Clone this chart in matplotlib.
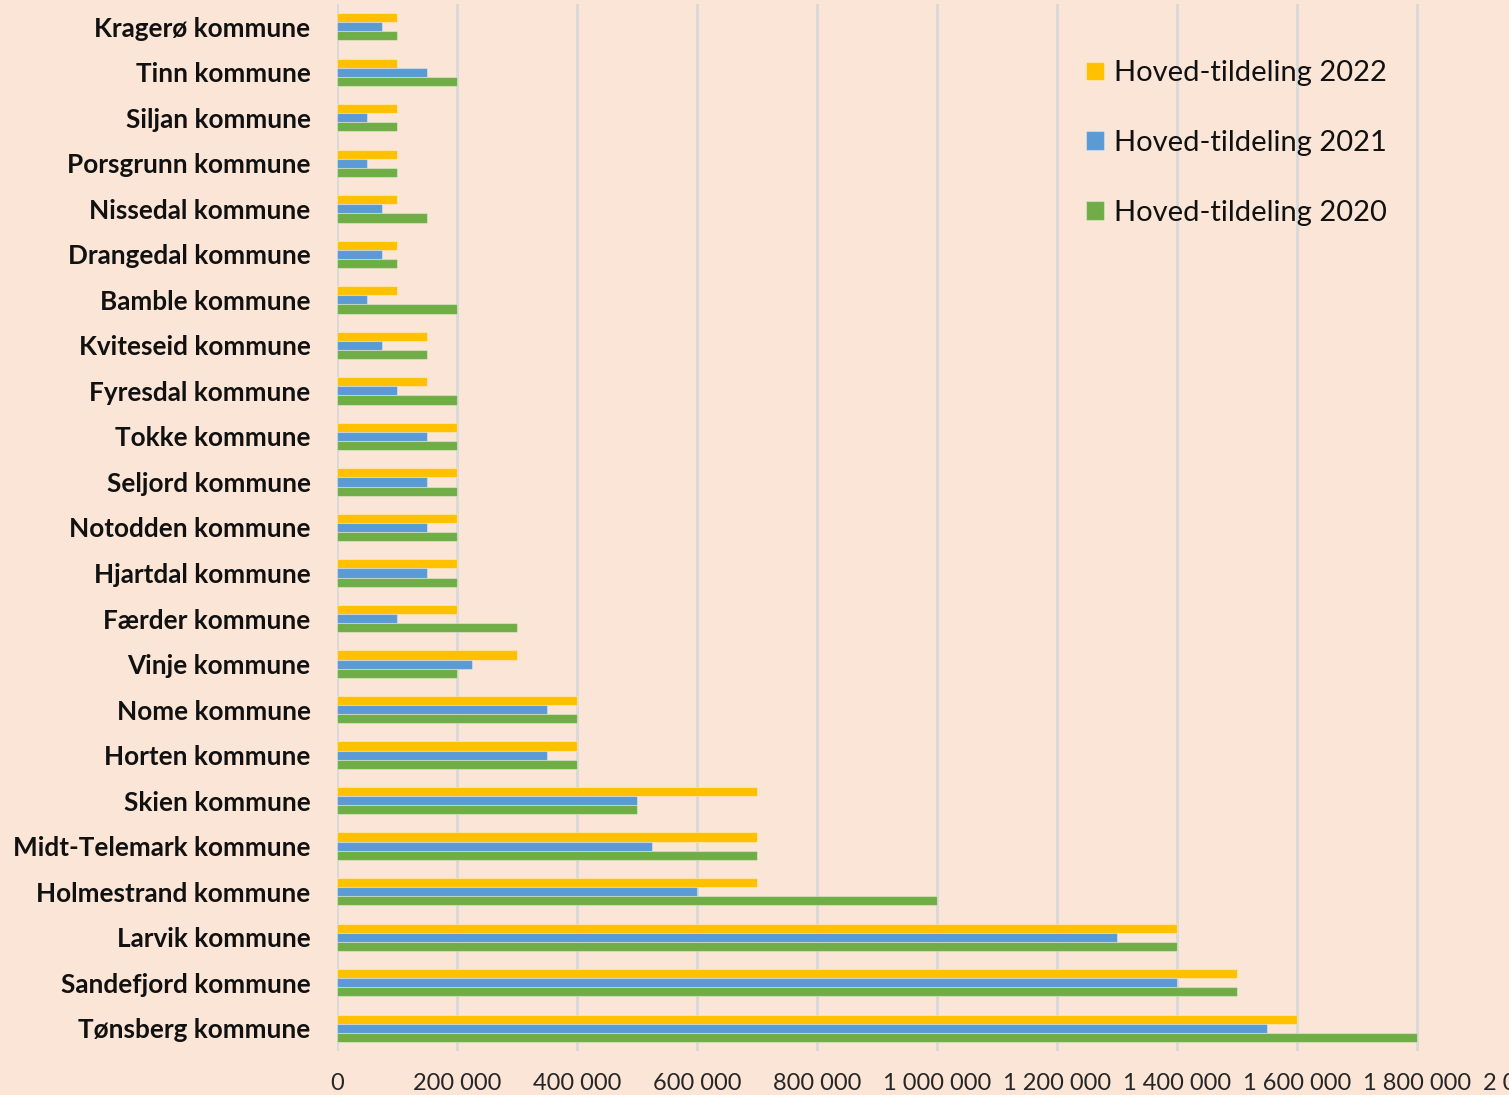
import matplotlib
matplotlib.use("Agg")
import matplotlib.pyplot as plt
import numpy as np
from matplotlib.ticker import FuncFormatter

categories = ["Kragerø kommune", "Tinn kommune", "Siljan kommune", "Porsgrunn kommune",
              "Nissedal kommune", "Drangedal kommune", "Bamble kommune", "Kviteseid kommune",
              "Fyresdal kommune", "Tokke kommune", "Seljord kommune", "Notodden kommune",
              "Hjartdal kommune", "Færder kommune", "Vinje kommune", "Nome kommune",
              "Horten kommune", "Skien kommune", "Midt-Telemark kommune", "Holmestrand kommune",
              "Larvik kommune", "Sandefjord kommune", "Tønsberg kommune"]

tildeling_2022 = [100000, 100000, 100000, 100000, 100000, 100000, 100000, 150000,
                  150000, 200000, 200000, 200000, 200000, 200000, 300000, 400000,
                  400000, 700000, 700000, 700000, 1400000, 1500000, 1600000]
tildeling_2021 = [75000, 150000, 50000, 50000, 75000, 75000, 50000, 75000,
                  100000, 150000, 150000, 150000, 150000, 100000, 225000, 350000,
                  350000, 500000, 525000, 600000, 1300000, 1400000, 1550000]
tildeling_2020 = [100000, 200000, 100000, 100000, 150000, 100000, 200000, 150000,
                  200000, 200000, 200000, 200000, 200000, 300000, 200000, 400000,
                  400000, 500000, 700000, 1000000, 1400000, 1500000, 1800000]

series_labels = ["Hoved-tildeling 2022", "Hoved-tildeling 2021", "Hoved-tildeling 2020"]
colors = ["#FFC000", "#5B9BD5", "#70AD47"]
bg = "#FBE5D6"

W, H = 1509, 1095
fig = plt.figure(figsize=(W / 100, H / 100), dpi=100, facecolor=bg)
left = 337 / W
right = 1537 / W
top = 1 - 4 / H
bottom = 1 - 1051 / H
ax = fig.add_axes([left, bottom, right - left, top - bottom])
ax.set_facecolor(bg)

y = np.arange(len(categories))
h = 0.2
for vals, off, c, lab in zip([tildeling_2022, tildeling_2021, tildeling_2020],
                             [-h, 0, h], colors, series_labels):
    ax.barh(y + off, vals, height=h, color=c, label=lab,
            edgecolor=(1, 1, 1, 0.35), linewidth=0.8, zorder=3)

ax.set_xlim(0, 2000000)
ax.set_ylim(len(categories) - 0.5, -0.5)
ax.set_xticks(np.arange(0, 2000001, 200000))
ax.xaxis.set_major_formatter(FuncFormatter(lambda v, p: f"{int(v):,}".replace(",", " ")))
ax.set_yticks(y)
ax.set_yticklabels(categories)

for s in ax.spines.values():
    s.set_visible(False)
ax.grid(axis="x", color="#D9D9D9", linewidth=2, zorder=0)
ax.set_axisbelow(True)

ax.tick_params(axis="x", length=0, pad=16, labelsize=17, labelcolor="#262626")
ax.tick_params(axis="y", length=0, pad=19, labelsize=18.8)
for t in ax.get_xticklabels():
    t.set_fontfamily("Lato")
for t in ax.get_yticklabels():
    t.set_fontfamily("Lato")
    t.set_fontweight("bold")
    t.set_color("#111111")

leg = fig.legend(loc="upper left", bbox_to_anchor=(1060 / W, 1 - 34 / H),
                 frameon=False, prop={"family": "Lato", "size": 21},
                 handlelength=0.6, handleheight=0.6, handletextpad=0.35,
                 labelspacing=1.5)
for t in leg.get_texts():
    t.set_color("#111111")

fig.savefig("out.png", dpi=100, facecolor=bg)
